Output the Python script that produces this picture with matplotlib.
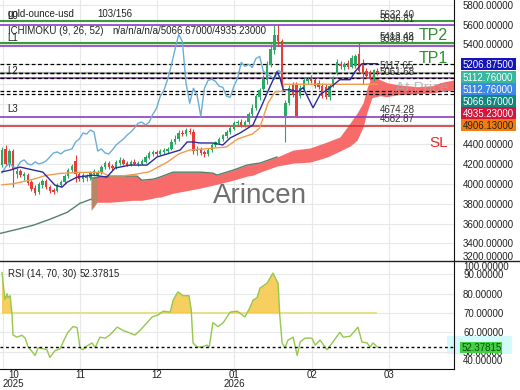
import matplotlib
matplotlib.use("Agg")
import matplotlib.pyplot as plt
from matplotlib.patches import Rectangle
from matplotlib.lines import Line2D
import numpy as np

plt.rcParams['font.family'] = ['Liberation Sans', 'DejaVu Sans']

# ---------------- data ----------------
symbol = "gold-ounce-usd"
counter = "103/156"

opens = [4190, 4350, 4190, 4330, 4100, 4130, 4080, 4090, 4020, 3960,
         3920, 3990, 4030, 3970, 3940, 3930, 3990, 4020, 4080, 4140,
         4230, 4100, 4050, 4060, 4060, 4100, 4080, 4110, 4170, 4210,
         4180, 4160, 4210, 4240, 4210, 4190, 4220, 4200, 4200, 4220,
         4260, 4300, 4320, 4300, 4320, 4330, 4350, 4420, 4450, 4510,
         4500, 4530, 4520, 4330, 4350, 4320, 4300, 4340, 4390, 4410,
         4450, 4480, 4520, 4550, 4610, 4620, 4590, 4620, 4700, 4760,
         4870, 4950, 5040, 5190, 5340, 5500, 5430, 4680, 4810, 4990,
         4990, 4880, 4960, 5030, 5050, 5040, 5010, 4980, 4975, 4870,
         4990, 5110, 5200, 5170, 5210, 5170, 5180, 5300, 5200, 5130,
         5120, 5060, 5130]
highs = [4370, 4390, 4350, 4350, 4160, 4150, 4120, 4110, 4040, 3990,
         4020, 4050, 4050, 3990, 3960, 4010, 4040, 4100, 4160, 4200,
         4290, 4120, 4110, 4100, 4130, 4150, 4140, 4190, 4230, 4230,
         4200, 4240, 4270, 4260, 4230, 4240, 4250, 4230, 4250, 4290,
         4330, 4340, 4340, 4350, 4360, 4370, 4450, 4490, 4540, 4540,
         4560, 4560, 4550, 4380, 4370, 4340, 4360, 4410, 4430, 4470,
         4500, 4540, 4580, 4630, 4640, 4650, 4640, 4720, 4800, 4900,
         4960, 5090, 5230, 5400, 5600, 5600, 5460, 4840, 4990, 5020,
         5020, 4990, 5060, 5070, 5090, 5060, 5040, 5010, 5000, 5000,
         5080, 5250, 5230, 5220, 5240, 5290, 5300, 5420, 5250, 5160,
         5140, 5150, 5160]
lows = [4170, 4180, 4170, 3966, 4060, 4070, 4040, 3990, 3930, 3890,
        3900, 3960, 3950, 3910, 3900, 3920, 3970, 4000, 4060, 4120,
        4020, 4030, 4020, 4030, 4040, 4080, 4070, 4100, 4150, 4150,
        4140, 4150, 4190, 4190, 4180, 4180, 4190, 4180, 4190, 4210,
        4250, 4280, 4280, 4290, 4300, 4310, 4340, 4400, 4430, 4480,
        4480, 4500, 4300, 4290, 4290, 4270, 4280, 4320, 4370, 4400,
        4430, 4460, 4500, 4540, 4590, 4570, 4570, 4600, 4680, 4740,
        4840, 4940, 5000, 5170, 5300, 5380, 4980, 4420, 4790, 4870,
        4680, 4860, 4940, 5000, 5010, 4960, 4950, 4860, 4850, 4840,
        4970, 5090, 5150, 5140, 5150, 5160, 5160, 5110, 5000, 5060,
        5040, 5030, 5090]
closes = [4340, 4200, 4330, 4140, 4130, 4090, 4100, 4010, 3950, 3910,
          4000, 4030, 3970, 3930, 3920, 3990, 4020, 4080, 4140, 4180,
          4100, 4050, 4090, 4080, 4110, 4130, 4110, 4170, 4210, 4170,
          4160, 4220, 4240, 4200, 4190, 4220, 4200, 4210, 4230, 4270,
          4310, 4320, 4300, 4330, 4340, 4350, 4420, 4450, 4510, 4500,
          4540, 4520, 4330, 4350, 4310, 4300, 4340, 4390, 4420, 4450,
          4490, 4520, 4560, 4610, 4620, 4590, 4620, 4700, 4760, 4880,
          4940, 5050, 5190, 5350, 5500, 5430, 5010, 4810, 4960, 4890,
          4680, 4960, 5040, 5050, 5030, 4980, 4970, 4880, 4870, 4980,
          5060, 5220, 5180, 5200, 5170, 5260, 5280, 5130, 5100, 5080,
          5050, 5140, 5117.65]

chikou_shift = 26

tenkan_x = [0, 2.2, 4.9, 11.1, 14.4, 16.3, 17.7, 20.4, 24.7, 28.5, 30.7, 34.8, 39.4,
            42.1, 45.7, 48.4, 50.3, 51.9, 53.8, 57.3, 60.0, 62.0, 64.7, 68.2, 70.9,
            72.8, 74.7, 75.5, 76.4, 78.3, 80.4, 81.8, 84.5, 86.4, 89.1, 91.8, 94.6,
            95.9, 97.8, 102]
tenkan_y = [4120, 4137, 4168, 4117, 3986, 3966, 4016, 4067, 4087, 4067, 4158, 4188, 4188,
            4269, 4309, 4339, 4420, 4420, 4410, 4410, 4390, 4461, 4511, 4592, 4814,
            4976, 5127, 5067, 4945, 4945, 4925, 4966, 4764, 4895, 4966, 5046, 5046,
            5127, 5207, 5206.875]

kijun_x = [0, 3, 8, 12, 16, 21, 27, 29, 33, 37, 40, 42, 45, 48, 51, 55, 61, 64, 68,
           70, 72.3, 74.2, 76.3, 76.6, 102]
kijun_y = [3990, 4000, 4040, 4085, 4105, 4115, 4115, 4080, 4080, 4100, 4120, 4160, 4220,
           4300, 4340, 4350, 4370, 4450, 4500, 4560, 4814, 4925, 4930, 5000, 5000]

cloud_x = [24.2, 25.8, 26.6, 29.3, 35.6, 36.7, 38.0, 41.0, 42.1, 42.9, 46.5, 53.8,
           57.3, 58.4, 62.8, 66.6, 68.2, 70.1, 74.7, 79.1, 83.7, 88.3, 91.8, 94.6,
           96.5, 98.1, 99.2, 100.5, 102.7, 104.6, 107.3, 112.8, 117.1, 119.0, 123.0]
cloud_top = [4057, 4062, 4067, 4077, 4077, 4077, 4036, 4046, 4057, 4067, 4117, 4117,
             4107, 4087, 4137, 4188, 4198, 4208, 4269, 4339, 4360, 4420, 4471, 4612,
             4713, 4814, 4966, 5087, 5046, 5016, 4996, 4976, 4986, 5016, 5046]
cloud_bot = [3834, 3814, 3814, 3814, 3834, 3834, 3834, 3855, 3865, 3865, 3905, 3956,
             3986, 3996, 4036, 4077, 4087, 4117, 4178, 4208, 4218, 4269, 4329, 4380,
             4440, 4572, 4723, 4865, 4885, 4875, 4895, 4905, 4915, 4925, 4945]
spanb_x = [-0.5, 4.1, 8.4, 13.0, 17.7, 21.2, 24.2]
spanb_y = [3501, 3542, 3582, 3643, 3713, 3804, 3845]
brown_x = [24.2, 25.0, 25.8]
brown_lo = [3733, 3770, 3814]
brown_hi = [4057, 4060, 4062]

levels = [5632.40, 5596.81, 5413.48, 5388.84, 5117.65, 5061.68, 4674.28, 4582.87]
level_colors = ['#3c9a3c', '#8b3fbf', '#3c9a3c', '#8b3fbf', '#ababab', '#8b3fbf',
                '#8b3fbf', '#d83232']
level_widths = [1.5, 1.2, 1.5, 1.2, 1.6, 1.2, 1.2, 1.2]
level_names = ["L0", "L1", "L2", "L3"]

ichi_vals = [5206.875, 5112.76, 5112.76, 5066.67, 4935.23, 4906.13]
ichi_colors = ['#1414bf', '#36b89c', '#3d87e6', '#11877d', '#d4163c', '#f57c0c']
ichi_text = ['white', 'white', 'white', 'white', 'white', '#222222']

rsi_x = [0, 0.8, 1.4, 1.6, 2.2, 2.7, 3.0, 4.1, 5.4, 6.3, 7.1, 8.2, 9.0, 9.8, 11.1,
         12.2, 13.0, 14.4, 15.8, 16.6, 17.9, 19.3, 20.4, 21.2, 22.0, 23.1, 24.5, 25.3,
         26.6, 28.0, 29.3, 31.3, 32.9, 34.8, 36.1, 37.5, 39.4, 40.8, 42.4, 43.8, 45.7,
         46.5, 47.8, 49.2, 50.8, 51.4, 51.9, 53.0, 54.3, 55.7, 56.3, 57.3, 58.7, 60.1,
         62.0, 63.9, 66.0, 67.4, 68.2, 69.3, 70.1, 72.0, 73.6, 75.0, 75.5, 76.1, 76.9,
         77.7, 79.1, 80.2, 81.0, 82.3, 84.2, 85.1, 86.4, 88.3, 89.7, 91.8, 92.7, 94.6,
         96.7, 97.8, 99.2, 100.0, 100.8, 102.0]
rsi_v = [91, 77, 80, 78, 79, 70, 58.6, 57.5, 58.5, 57, 52.4, 50, 48, 52, 51.5,
         51, 47, 50.5, 51.5, 55, 60, 63, 62.5, 52, 51, 53, 54.5, 52,
         57.5, 57, 58.6, 62.7, 61, 59.6, 58.6, 61, 65, 68, 69, 71, 70.5,
         76.7, 81, 79, 79, 72, 54.5, 52.4, 52.4, 53.4, 52.4, 65, 63, 65,
         70.5, 71, 68, 73, 76.7, 78, 83, 85.5, 90.7, 85.5, 68, 54.5, 52,
         56, 57.5, 48, 55, 57, 57, 53.4, 56, 51, 54.5, 60, 57.5, 58,
         62.7, 55, 54.5, 52.4, 54.5, 52.37815]
rsi_last = 52.37815
rsi_upper = 70

month_pos = [0.27, 21.2, 42.1, 63.0, 84.2, 105.2]
month_labels = ["10\n2025", "11", "12", "01\n2026", "02", "03"]
price_ticks = list(range(3400, 5801, 200))
rsi_ticks = [50, 60, 70, 80, 90]

# ---------------- layout ----------------
W, H = 520.0, 390.0
def fx(p):
    return p / W
def fy(p):
    return 1 - p / H

fig = plt.figure(figsize=(5.2, 3.9), dpi=100)
ax = fig.add_axes([0, fy(260), fx(454), 260 / H])
axr = fig.add_axes([0, fy(369), fx(454), (369 - 260) / H], sharex=ax)
axr.set_facecolor('none')

TXT = '#222222'

# ---------------- main panel ----------------
ax.set_xlim(-0.54, 122.8)
ax.set_ylim(3234, 5847)
ax.set_axisbelow(True)
ax.grid(True, color='#e8e8e8', lw=0.8, zorder=0)
ax.set_xticks(month_pos)
ax.set_yticks(price_ticks)
ax.set_yticklabels([f"{v:.5f}" for v in price_ticks])
ax.yaxis.tick_right()
ax.tick_params(axis='y', length=0, pad=6.5, labelsize=7, labelcolor=TXT)
ax.tick_params(axis='x', length=0, labelbottom=False)
for s in ['top', 'left', 'bottom']:
    ax.spines[s].set_visible(False)
ax.spines['right'].set_color('#111111')

# cloud
ax.fill_between(cloud_x, cloud_bot, cloud_top, color='#f76b6b', lw=0, zorder=1)
ax.fill_between(brown_x, brown_lo, brown_hi, color='#b98666', lw=0, zorder=1.1)
ncut = sum(1 for v in cloud_x if v <= 75)
ax.plot(cloud_x[:ncut], cloud_top[:ncut], color='#557f66', lw=1, zorder=1.2)
ax.plot(spanb_x, spanb_y, color='#557f6f', lw=1, zorder=1.2)

# level lines
for v, c, w in zip(levels, level_colors, level_widths):
    ax.axhline(v, color=c, lw=w, zorder=2)
for v in ichi_vals:
    ax.axhline(v, color='black', lw=0.9, ls=(0, (3, 2)), zorder=2.1)

# candles
o = np.array(opens); h = np.array(highs); l = np.array(lows); c = np.array(closes)
xs = np.arange(len(c))
cols = np.where(c >= o, '#2aa865', '#e63c3a')
ax.vlines(xs, l, h, colors=cols, lw=0.8, zorder=3)
ax.bar(xs, np.maximum(np.abs(c - o), 8), bottom=np.minimum(o, c), width=0.65,
       color=cols, lw=0, zorder=3)

# ichimoku lines
ax.plot(np.arange(len(c) - chikou_shift), c[chikou_shift:], color='#6aaed8', lw=1, zorder=4)
ax.plot(kijun_x, kijun_y, color='#f39a4c', lw=1, zorder=4)
ax.plot(tenkan_x, tenkan_y, color='#2b2b9c', lw=1, zorder=4.1)

# level labels
for v in levels:
    ax.annotate(f"{v:.2f}", xy=(102.7, v), xytext=(0, 1), textcoords='offset points',
                fontsize=7, color='#333333', ha='left', va='bottom', zorder=5)

ax.text(106.8, 4923, 'At Price', fontsize=11, color='#a8a8a8', alpha=0.75,
        ha='left', va='baseline', clip_on=True, zorder=5)

# ---------------- RSI panel ----------------
axr.set_ylim(41.0, 97.5)
axr.set_axisbelow(True)
axr.grid(True, color='#e8e8e8', lw=0.8, zorder=0)
rx = np.array(rsi_x); rv = np.array(rsi_v)
axr.hlines(rsi_upper, 0, len(c) - 1, color='#e6e08c', lw=1.5, zorder=2)
axr.fill_between(rx, rv, rsi_upper, where=rv >= rsi_upper, interpolate=True,
                 color='#f6c744', alpha=0.85, lw=0, zorder=2.5)
axr.plot(rx, rv, color='#95c84d', lw=1, zorder=4)
axr.axhline(rsi_last, color='black', lw=1, ls=(0, (2, 2)), zorder=5)
axr.set_yticks(rsi_ticks)
axr.set_yticklabels([f"{v:.5f}" for v in rsi_ticks])
axr.yaxis.tick_right()
axr.tick_params(axis='y', length=0, pad=6.5, labelsize=7, labelcolor=TXT)
axr.set_xticks(month_pos)
axr.set_xticklabels(month_labels)
axr.tick_params(axis='x', length=0, pad=1, labelsize=7, labelcolor=TXT)
for i, lbl in enumerate(axr.get_xticklabels()):
    lbl.set_linespacing(0.85)
    if i == 0:
        lbl.set_horizontalalignment('left')
        lbl.set_multialignment('center')
for s in ['top', 'left']:
    axr.spines[s].set_visible(False)
axr.spines['right'].set_color('#111111')
axr.spines['bottom'].set_color('#111111')

# ---------------- figure-level decorations ----------------
fig.add_artist(Rectangle((fx(447), fy(354)), fx(65), 18 / H, transform=fig.transFigure,
                         fc='#d4fbfb', ec='none', zorder=-1))
fig.add_artist(Line2D([0, 1], [fy(260.5), fy(260.5)], transform=fig.transFigure,
                      color='#222222', lw=1, zorder=2))

fig.text(fx(8), fy(13), symbol, fontsize=7, color=TXT, va='center_baseline')
fig.text(fx(97), fy(13), counter, fontsize=7, color=TXT, va='center_baseline')
fig.text(fx(8), fy(30), "ICHIMOKU (9, 26, 52)", fontsize=7, color=TXT, va='center_baseline')
fig.text(fx(112), fy(30), "n/a/n/a/n/a/" + f"{ichi_vals[3]:.5f}/{ichi_vals[4]:.5f}",
         fontsize=7, color=TXT, va='center_baseline')
fig.text(fx(8), fy(273), "RSI (14, 70, 30)", fontsize=7, color=TXT, va='center_baseline')
fig.text(fx(80), fy(273), f"{rsi_last:.5f}", fontsize=7, color=TXT, va='center_baseline')

for name, yy in zip(level_names, [15, 37, 70.5, 108.5]):
    fig.text(fx(7), fy(yy), name, fontsize=7, color=TXT, va='center_baseline')

fig.text(fx(419), fy(34), "TP2", fontsize=11.5, color='#2f8f2f', va='center_baseline')
fig.text(fx(419), fy(57), "TP1", fontsize=11.5, color='#2f8f2f', va='center_baseline')
fig.text(fx(429), fy(141), "SL", fontsize=11, color='#e32b2b', va='center_baseline')

fig.text(fx(260), fy(203), "Arincen", fontsize=20, color='#5e5e5e', alpha=0.9,
         ha='center', va='baseline', zorder=6)

# value boxes on the price scale
for v, col, tc, yc in zip(ichi_vals, ichi_colors, ichi_text, [64, 77, 89, 101, 113, 125]):
    fig.add_artist(Rectangle((fx(461), fy(yc + 5.8)), fx(55), 11.6 / H,
                             transform=fig.transFigure, fc=col, ec='none', zorder=2))
    fig.text(fx(463), fy(yc), f"{v:.5f}", fontsize=7, color=tc, va='center_baseline', zorder=3)

fig.text(fx(463), fy(256), "3200.00000", fontsize=7, color=TXT, va='center_baseline')
fig.text(fx(463), fy(266), "100.00000", fontsize=7, color=TXT, va='center_baseline')
fig.text(fx(463), fy(360), "40.00000", fontsize=7, color=TXT, va='center_baseline')

fig.add_artist(Rectangle((fx(460), fy(352.5)), fx(42), 11 / H, transform=fig.transFigure,
                         fc='#45cf45', ec='none', zorder=2))
fig.text(fx(462), fy(347), f"{rsi_last:.5f}", fontsize=7, color='#0b4f0b',
         va='center_baseline', zorder=3)

fig.savefig("out.png", dpi=100)
